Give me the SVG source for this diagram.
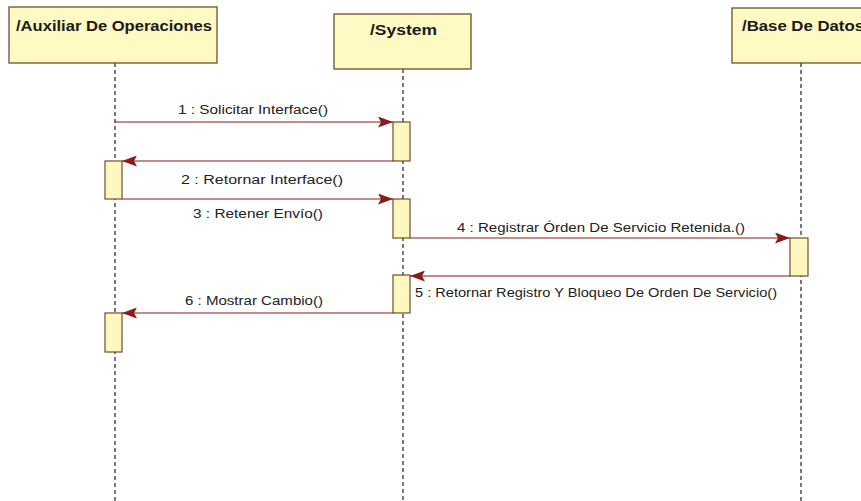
<svg xmlns="http://www.w3.org/2000/svg" width="861" height="501" viewBox="0 0 861 501">
<style>
.head{fill:#fff9c4;stroke:#6e4f2c;stroke-width:1.3}
.act{fill:#fff7bd;stroke:#6e4f2c;stroke-width:1.2}
.life{stroke:#222;stroke-width:1.2;stroke-dasharray:4 3;fill:none}
.msg{stroke:#8b1a1a;stroke-width:1.2;fill:none;marker-end:url(#ah)}
.t{font-family:"Liberation Sans",Tahoma,Arial,sans-serif;font-size:12.5px;fill:#222}
.h{font-family:"Liberation Sans",Tahoma,Arial,sans-serif;font-size:14px;font-weight:bold;fill:#1a1a1a}
</style>
<defs>
<marker id="ah" markerWidth="15" markerHeight="11" refX="15" refY="5.5" orient="auto" markerUnits="userSpaceOnUse">
<path d="M0,0 L15,5.5 L0,11 L3,5.5 Z" fill="#8b1a1a"/>
</marker>
</defs>
<rect width="861" height="501" fill="#ffffff"/>
<g id="lifelines">
<line class="life" x1="115" y1="63" x2="115" y2="501"/>
<line class="life" x1="403" y1="69" x2="403" y2="501"/>
<line class="life" x1="801" y1="63" x2="801" y2="501"/>
</g>
<g id="aux">
<rect class="head" x="9" y="7" width="208" height="56"/>
<text class="h" x="16" y="31" textLength="196" lengthAdjust="spacingAndGlyphs">/Auxiliar De Operaciones</text>
<rect class="act" x="105" y="161" width="17" height="38"/>
<rect class="act" x="105" y="313" width="17" height="39"/>
</g>
<g id="system">
<rect class="head" x="334" y="14" width="137" height="55"/>
<text class="h" x="370" y="35" textLength="67" lengthAdjust="spacingAndGlyphs">/System</text>
<rect class="act" x="393" y="122" width="17" height="39"/>
<rect class="act" x="393" y="199" width="17" height="39"/>
<rect class="act" x="393" y="275" width="17" height="38"/>
</g>
<g id="db">
<rect class="head" x="732" y="8" width="140" height="55"/>
<text class="h" x="742" y="31" textLength="122" lengthAdjust="spacingAndGlyphs">/Base De Datos</text>
<rect class="act" x="790" y="238" width="18" height="38"/>
</g>
<g id="connectors">
<line class="msg" x1="115" y1="122" x2="393" y2="122"/>
<line class="msg" x1="393" y1="161" x2="122" y2="161"/>
<line class="msg" x1="122" y1="199" x2="393" y2="199"/>
<line class="msg" x1="410" y1="238" x2="790" y2="238"/>
<line class="msg" x1="790" y1="276" x2="410" y2="276"/>
<line class="msg" x1="393" y1="313" x2="122" y2="313"/>
<text class="t" x="178" y="114" textLength="150" lengthAdjust="spacingAndGlyphs">1 : Solicitar Interface()</text>
<text class="t" x="181" y="184" textLength="162" lengthAdjust="spacingAndGlyphs">2 : Retornar Interface()</text>
<text class="t" x="193" y="218" textLength="130" lengthAdjust="spacingAndGlyphs">3 : Retener Envío()</text>
<text class="t" x="457" y="232" textLength="288" lengthAdjust="spacingAndGlyphs">4 : Registrar Órden De Servicio Retenida.()</text>
<text class="t" x="415" y="297" textLength="362" lengthAdjust="spacingAndGlyphs">5 : Retornar Registro Y Bloqueo De Orden De Servicio()</text>
<text class="t" x="185" y="305" textLength="138" lengthAdjust="spacingAndGlyphs">6 : Mostrar Cambio()</text>
</g>
</svg>
